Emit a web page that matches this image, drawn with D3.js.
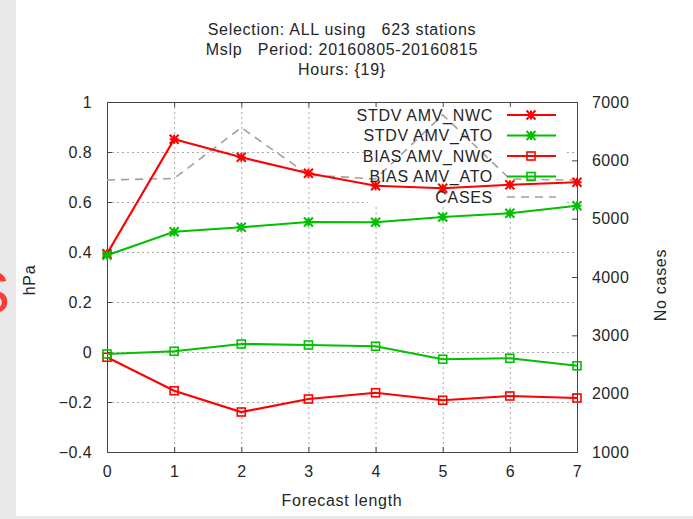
<!DOCTYPE html>
<html><head><meta charset="utf-8">
<script src="https://cdn.jsdelivr.net/npm/d3@7"></script>
<style>
html,body{margin:0;padding:0;background:#e9e9e9;}
svg{display:block;font-family:"Liberation Sans",Arial,sans-serif;}
</style></head>
<body>
<svg id="c" width="693" height="519"></svg>
<script>
const steps = [0, 1, 2, 3, 4, 5, 6, 7];
const stdvNWC = [0.393, 0.851, 0.779, 0.715, 0.665, 0.655, 0.669, 0.679];
const stdvATO = [0.387, 0.481, 0.499, 0.520, 0.519, 0.540, 0.555, 0.585];
const biasNWC = [-0.021, -0.155, -0.240, -0.188, -0.163, -0.193, -0.176, -0.184];
const biasATO = [-0.008, 0.003, 0.032, 0.028, 0.023, -0.029, -0.025, -0.055];
const cases = [5663, 5690, 6560, 5750, 5680, 6780, 5680, 5660];
const yTicks = [-0.4, -0.2, 0, 0.2, 0.4, 0.6, 0.8, 1];
const y2Ticks = [1000, 2000, 3000, 4000, 5000, 6000, 7000];
const titleLines = ["Selection: ALL using   623 stations", "Mslp   Period: 20160805-20160815", "Hours: {19}"];
const seriesNames = ["STDV AMV_NWC", "STDV AMV_ATO", "BIAS AMV_NWC", "BIAS AMV_ATO", "CASES"];

const RED = "#ff0000", GREEN = "#00c000", GRAY = "#a0a0a0", TXT = "#262626";
const L = 107, R = 577, T = 102, B = 452;
const FS = 16, LS = "0.7px";
const svg = d3.select("#c");

svg.append("rect").attr("x", 16).attr("y", 0).attr("width", 677).attr("height", 516).attr("fill", "#fff");
svg.append("text").attr("x", 10).attr("y", 313).attr("text-anchor", "end")
  .attr("font-size", 60).attr("fill", "#ff3a3a").text("S");

const x = d3.scaleLinear().domain([0, 7]).range([L, R]);
const y = d3.scaleLinear().domain([-0.4, 1]).range([B, T]);
const y2 = d3.scaleLinear().domain([1000, 7000]).range([B, T]);

// mask for grid (hidden under key)
const defs = svg.append("defs");
const m = defs.append("mask").attr("id", "km");
m.append("rect").attr("x", 0).attr("y", 0).attr("width", 693).attr("height", 519).attr("fill", "#fff");
m.append("rect").attr("x", 368).attr("y", T + 1).attr("width", 198).attr("height", 103).attr("fill", "#000");

const grid = svg.append("g").attr("mask", "url(#km)").attr("stroke", "#a8a8a8").attr("stroke-width", 1).attr("stroke-dasharray", "2,3");
grid.selectAll(".gx").data(steps.filter(d => d > 0 && d < 7)).join("line")
  .attr("x1", d => x(d) + 0.5).attr("x2", d => x(d) + 0.5).attr("y1", T).attr("y2", B);
grid.selectAll(".gy").data(yTicks.filter(d => d > -0.4 && d < 1)).join("line")
  .attr("y1", d => Math.round(y(d)) + 0.5).attr("y2", d => Math.round(y(d)) + 0.5).attr("x1", L).attr("x2", R);

function styleAxis(g) {
  g.select(".domain").remove();
  g.selectAll(".tick line").attr("stroke", "#444");
  g.selectAll("text").attr("fill", TXT).attr("font-size", FS).attr("letter-spacing", "0.4px")
    .attr("font-family", "Liberation Sans, Arial, sans-serif");
}
svg.append("g").attr("transform", `translate(${L},0)`)
  .call(d3.axisLeft(y).tickValues(yTicks).tickFormat(d3.format("~g")).tickSizeInner(-5).tickSizeOuter(0).tickPadding(15))
  .call(styleAxis);
svg.append("g").attr("transform", `translate(0,${B})`)
  .call(d3.axisBottom(x).tickValues(steps).tickFormat(d3.format("d")).tickSizeInner(-5).tickSizeOuter(0).tickPadding(14))
  .call(styleAxis);
svg.append("g").attr("transform", `translate(0,${T})`)
  .call(d3.axisTop(x).tickValues(steps).tickFormat("").tickSizeInner(-5).tickSizeOuter(0))
  .call(styleAxis);
svg.append("g").attr("transform", `translate(${R},0)`)
  .call(d3.axisRight(y2).tickValues(y2Ticks).tickFormat(d3.format("d")).tickSizeInner(-5).tickSizeOuter(0).tickPadding(15))
  .call(styleAxis);

svg.append("rect").attr("x", L + 0.5).attr("y", T + 0.5).attr("width", R - L).attr("height", B - T)
  .attr("fill", "none").attr("stroke", "#444").attr("stroke-width", 1);

// titles
svg.append("g").selectAll("text").data(titleLines).join("text")
  .attr("x", 342).attr("y", (d, i) => 35 + i * 20).attr("text-anchor", "middle")
  .attr("font-size", FS).attr("letter-spacing", LS).attr("fill", TXT).style("white-space", "pre").text(d => d);
svg.append("text").attr("x", 342).attr("y", 506).attr("text-anchor", "middle").attr("font-size", FS).attr("letter-spacing", LS).attr("fill", TXT).text("Forecast length");
svg.append("text").attr("transform", "translate(35,280) rotate(-90)").attr("text-anchor", "middle").attr("font-size", FS).attr("letter-spacing", LS).attr("fill", TXT).text("hPa");
svg.append("text").attr("transform", "translate(666,285) rotate(-90)").attr("text-anchor", "middle").attr("font-size", FS).attr("letter-spacing", LS).attr("fill", TXT).text("No cases");

// series
const series = [
  {vals: stdvNWC, color: RED, sym: "star"},
  {vals: stdvATO, color: GREEN, sym: "star"},
  {vals: biasNWC, color: RED, sym: "square"},
  {vals: biasATO, color: GREEN, sym: "square"}
];
function drawSym(g, sym, color, cx, cy) {
  if (sym === "star") {
    const s = 4.5;
    g.append("path").attr("d", `M${cx - s},${cy}H${cx + s}M${cx},${cy - s}V${cy + s}M${cx - s},${cy - s}L${cx + s},${cy + s}M${cx - s},${cy + s}L${cx + s},${cy - s}`)
      .attr("stroke", color).attr("stroke-width", 2).attr("fill", "none");
  } else {
    g.append("rect").attr("x", cx - 4).attr("y", cy - 4).attr("width", 8).attr("height", 8)
      .attr("stroke", color).attr("stroke-width", 1.6).attr("fill", "none");
  }
}
const line = d3.line().x((d, i) => x(steps[i])).y(d => y(d));
const cline = d3.line().x((d, i) => x(steps[i])).y(d => y2(d));

svg.append("path").datum(cases).attr("d", cline).attr("fill", "none").attr("stroke", GRAY)
  .attr("stroke-width", 1.6).attr("stroke-dasharray", "8,6");

series.forEach(s => {
  svg.append("path").datum(s.vals).attr("d", line).attr("fill", "none").attr("stroke", s.color).attr("stroke-width", 2.2);
  const g = svg.append("g");
  s.vals.forEach((v, i) => drawSym(g, s.sym, s.color, x(steps[i]), y(v)));
});

// legend
const rowsY = [115, 135.5, 156, 176.5, 197];
const lg = svg.append("g");
seriesNames.forEach((name, i) => {
  const cy = rowsY[i];
  lg.append("text").attr("x", 493).attr("y", cy + 5.5).attr("text-anchor", "end").attr("font-size", FS).attr("letter-spacing", LS).attr("fill", TXT).text(name);
  if (i < 4) {
    lg.append("line").attr("x1", 507).attr("x2", 556).attr("y1", cy).attr("y2", cy).attr("stroke", series[i].color).attr("stroke-width", 2.2);
    drawSym(lg, series[i].sym, series[i].color, 531, cy);
  } else {
    lg.append("line").attr("x1", 507).attr("x2", 556).attr("y1", cy).attr("y2", cy).attr("stroke", GRAY).attr("stroke-width", 1.6).attr("stroke-dasharray", "8,6");
  }
});
</script>
</body></html>
